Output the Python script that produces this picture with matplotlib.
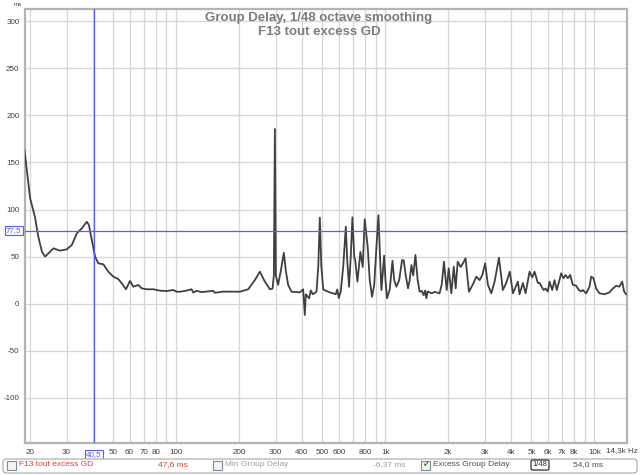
import matplotlib.pyplot as plt
from matplotlib.patches import FancyBboxPatch, Rectangle

plt.rcParams['font.family'] = ['Liberation Sans', 'DejaVu Sans']
plt.rcParams['axes.unicode_minus'] = False

# Excess group delay (Hz, ms)
freq_hz = [18.9, 20.1, 21.2, 22.0, 22.9, 23.7, 24.6, 26.0, 27.9, 30.1, 31.8, 33.6, 35.5, 37.5, 38.4,
           39.6, 41.1, 42.5, 45.0, 47.5, 50.2, 53.0, 55.1, 57.7, 60.3, 62.6, 66.1, 68.6, 72.5, 77.9,
           83.9, 90.3, 97.1, 100.8, 104.5, 110.4, 118.8, 121, 125.6, 132.7, 150.7, 153.5, 167.6, 202.1,
           221.4, 238.3, 251.8, 266.0, 281.1, 289.5, 293.7, 297, 300.2, 307.7, 317.1, 327.8, 335, 343.6,
           356.7, 390.8, 405.2, 412.9, 417.4, 432.8, 441, 450.8, 469.5, 478.9, 487, 495, 505.8, 543.4,
           580.3, 590, 599.8, 613.2, 630.3, 648, 658.6, 671.8, 684.4, 697, 711.2, 719.1, 736.7, 761,
           780.7, 798, 813, 825, 843.3, 864.9, 886.1, 907.8, 928, 944.5, 959.2, 988, 1003, 1020, 1051,
           1083, 1104, 1131, 1166, 1204, 1226, 1253, 1285, 1309, 1334, 1361, 1394, 1429, 1461, 1494,
           1527, 1552, 1573, 1596, 1667, 1723, 1818, 1861, 1909, 1945, 1967, 2011, 2070, 2126, 2171,
           2220, 2293, 2352, 2420, 2512, 2617, 2725, 2826, 2911, 3004, 3095, 3213, 3332, 3495, 3649,
           3788, 3939, 4074, 4305, 4385, 4548, 4684, 4895, 5043, 5172, 5363, 5464, 5710, 5837, 5984,
           6097, 6281, 6442, 6607, 6935, 7112, 7271, 7457, 7656, 7878, 8176, 8414, 8641, 8795, 9119,
           9465, 9643, 9890, 10188, 10566, 11161, 11793, 12231, 12696, 13163, 13560, 13863, 14170]
gd_ms = [163, 112, 92, 71, 55, 50, 53.5, 58.8, 56.3, 57.7, 62.3, 74.7, 80, 87, 83.5,
         67.6, 50, 42.9, 41.8, 34, 28.7, 26.2, 21.6, 15.3, 24.1, 18, 19.9, 16.3, 15.3, 15.3,
         13.8, 13.4, 14.5, 12.7, 12.7, 13.5, 15.3, 11.8, 13.6, 12.3, 13.6, 11.5, 12.8, 12.7,
         15.3, 25, 34, 23.4, 15.3, 16, 30, 185.5, 30, 20, 35, 54, 35, 20,
         12.7, 12, 15.3, -12, 10, 5.7, 14, 10, 12.7, 40, 91.3, 40, 15, 12,
         10, 15, 6, 13, 40, 81.7, 45, 18, 50, 91.7, 50, 46, 23.4, 55,
         39, 89.6, 73, 60, 25, 7.4, 20, 60, 94, 50, 14.5, 51, 25, 5.7, 15,
         45.6, 25, 18, 25, 46.4, 46, 30, 16.3, 25, 41, 30, 51.7, 25, 12.7, 13.5,
         9, 14, 5.7, 13, 11, 12.5, 11, 20, 44.6, 25, 14.5, 37.6, 11, 39.3, 16.3,
         44.6, 39, 42.9, 48.2, 12.7, 20, 28.7, 25, 30.5, 42.9, 20, 11, 23.4, 48.8, 14.5,
         22, 34, 11, 23.4, 10, 22, 11, 34, 28, 34, 22, 22, 14.5, 16, 13,
         23.4, 14.5, 25, 14.5, 32.3, 27, 30.5, 27, 30.5, 20, 19, 14.5, 13, 14.5, 11,
         18, 28.7, 27, 16, 11, 10, 12, 16, 19, 18, 23.4, 12.7, 10]

x_tick_freqs = [20, 30, 50, 60, 70, 80, 100, 200, 300, 400, 500, 600, 800,
                1000, 2000, 3000, 4000, 5000, 6000, 7000, 8000, 10000]
x_tick_labels = ['20', '30', '50', '60', '70', '80', '100', '200', '300', '400', '500', '600', '800',
                 '1k', '2k', '3k', '4k', '5k', '6k', '7k', '8k', '10k']
y_ticks = [-100, -50, 0, 50, 100, 150, 200, 250, 300]
cursor_freq = 40.5
cursor_ms = 77.5

grid_freqs = [m * d for d in (10, 100, 1000) for m in range(2, 10)] + [100, 1000, 10000]

fig = plt.figure(figsize=(6.4, 4.75), dpi=100)
ax = fig.add_axes([25 / 640, 1 - 443 / 475, 602 / 640, 434 / 475])

ax.plot(freq_hz, gd_ms, color='#404040', lw=1.3, zorder=3)

ax.set_xscale('log')
ax.set_xlim(19.0, 14300)
ax.set_ylim(-148, 313)

ax.set_xticks(grid_freqs, minor=True)
ax.set_xticks(x_tick_freqs)
ax.set_xticklabels(x_tick_labels)
ax.set_yticks(y_ticks)
ax.tick_params(which='both', length=0, labelsize=5.8, colors='#404040', pad=4)
ax.tick_params(axis='x', which='minor', labelbottom=False)
ax.grid(True, which='both', color='#d6d6d6', lw=0.9, zorder=0)

for side in ax.spines:
    ax.spines[side].set_color('#b4b4b4')
    ax.spines[side].set_linewidth(1.6)

# cursor lines
ax.axvline(cursor_freq, color='#5a5aff', lw=0.9, zorder=4)
ax.axhline(cursor_ms, color='#5a5aff', lw=0.9, zorder=4)
ax.text(cursor_freq, -0.018, '40,5', transform=ax.get_xaxis_transform(), ha='center', va='top',
        fontsize=5.8, color='#5a5aff',
        bbox=dict(boxstyle='square,pad=0.15', fc='white', ec='#5a5aff', lw=0.8))
ax.text(-0.006, cursor_ms, '77,5', transform=ax.get_yaxis_transform(), ha='right', va='center',
        fontsize=5.8, color='#5a5aff',
        bbox=dict(boxstyle='square,pad=0.15', fc='white', ec='#5a5aff', lw=0.8))

fig.text(18 / 640, 1 - 5 / 475, 'ms', fontsize=4.5, color='#404040', ha='center', va='center')
fig.text(1 - 2 / 640, 1 - 451 / 475, '14,3k Hz', fontsize=5.8, color='#404040', ha='right', va='center')

fig.text(319 / 640, 1 - 17.5 / 475, 'Group Delay, 1/48 octave smoothing', fontsize=9.5,
         fontweight='bold', color='#7c7c7c', ha='center', va='center')
fig.text(319 / 640, 1 - 32 / 475, 'F13 tout excess GD', fontsize=9.5,
         fontweight='bold', color='#7c7c7c', ha='center', va='center')

# legend strip
fig.patches.append(FancyBboxPatch((3 / 640, 1 - 473 / 475), 634 / 640, 14 / 475,
                                  boxstyle='round,pad=0,rounding_size=0.006', transform=fig.transFigure,
                                  fc='white', ec='#a8a8a8', lw=0.8))
ly = 1 - 465 / 475
for cx in (7, 213, 421):
    fig.patches.append(Rectangle((cx / 640, ly - 4.5 / 475), 9 / 640, 9 / 475,
                                 transform=fig.transFigure, fc='#f4f4f4', ec='#7a8aa0', lw=0.8))
fig.text(425.5 / 640, ly, '\u2714', fontsize=6, color='#2a9a2a', ha='center', va='center',
         family=['DejaVu Sans'])
fig.text(19 / 640, ly, 'F13 tout excess GD', fontsize=6, color='#e03a3a', va='center')
fig.text(158 / 640, ly, '47,6 ms', fontsize=6, color='#e03a3a', va='center')
fig.text(225 / 640, ly, 'Min Group Delay', fontsize=6, color='#a0a0a0', va='center')
fig.text(373 / 640, ly, '-6,37 ms', fontsize=6, color='#a0a0a0', va='center')
fig.text(433 / 640, ly, 'Excess Group Delay', fontsize=6, color='#505050', va='center')
fig.text(540 / 640, ly, '1/48', fontsize=5.5, color='#303030', ha='center', va='center',
         bbox=dict(boxstyle='round,pad=0.2', fc='white', ec='#303030', lw=0.9))
fig.lines.append(plt.Line2D([528 / 640, 552 / 640], [ly, ly], transform=fig.transFigure,
                            color='#303030', lw=0.9, zorder=-1))
fig.text(573 / 640, ly, '54,0 ms', fontsize=6, color='#505050', va='center')

fig.savefig('out.png', dpi=100)
